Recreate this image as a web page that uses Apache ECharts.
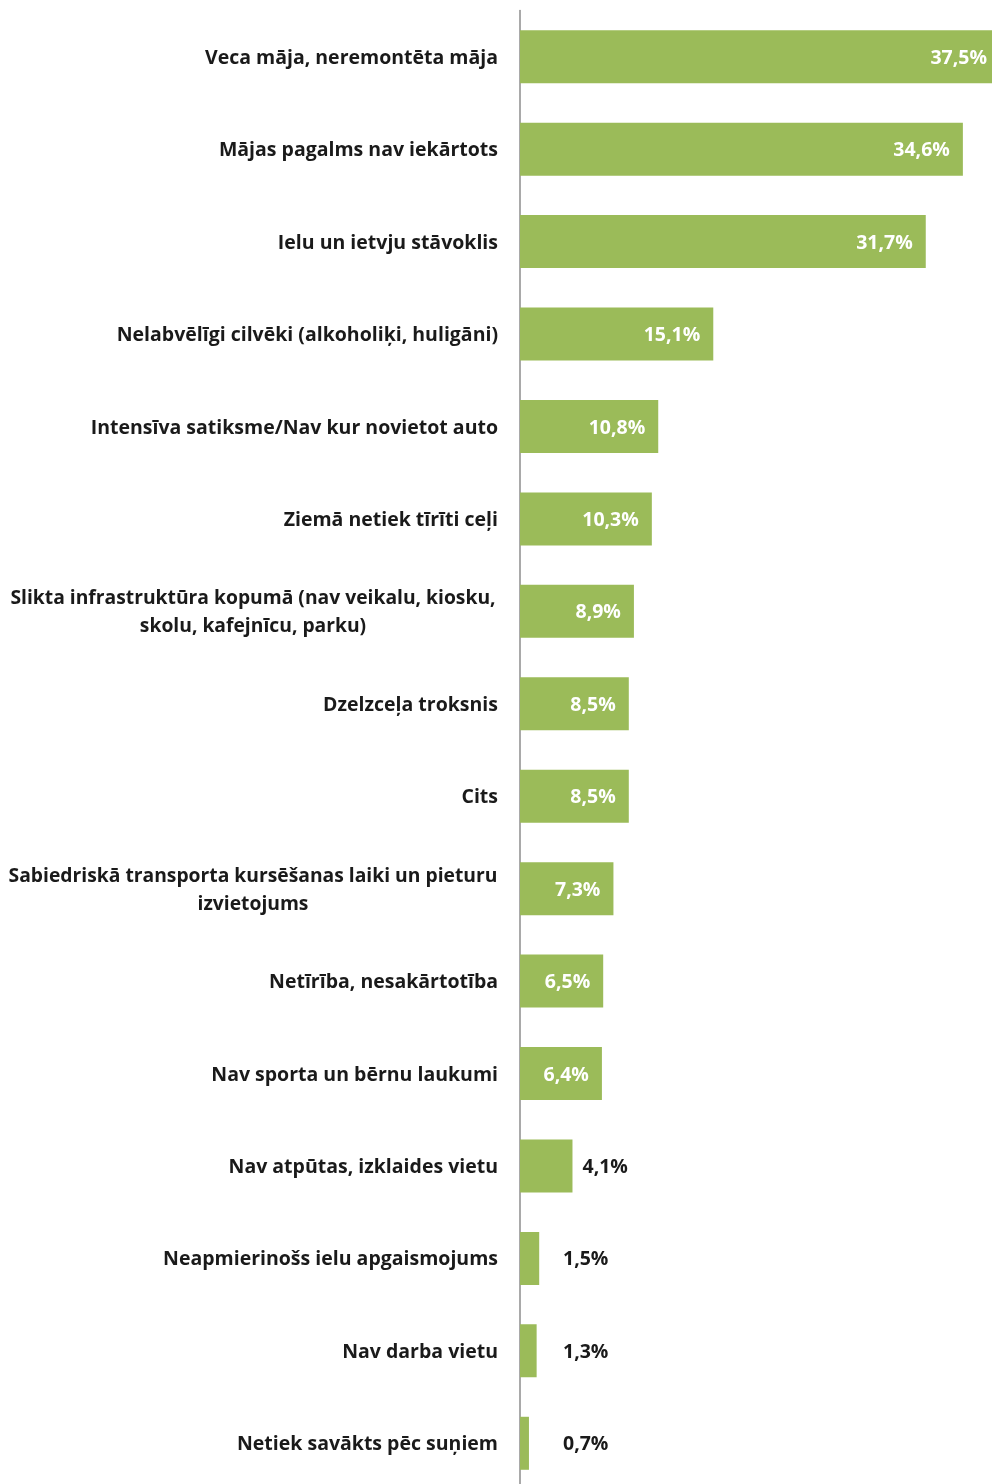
<!DOCTYPE html>
<html><head><meta charset="utf-8">
<script src="https://cdn.jsdelivr.net/npm/echarts@6/dist/echarts.min.js"></script>
<style>html,body{margin:0;padding:0;background:#fff}#c{width:992px;height:1484px}</style>
</head><body><div id="c"></div>
<script>
const categories = [
  "Veca māja, neremontēta māja",
  "Mājas pagalms nav iekārtots",
  "Ielu un ietvju stāvoklis",
  "Nelabvēlīgi cilvēki (alkoholiķi, huligāni)",
  "Intensīva satiksme/Nav kur novietot auto",
  "Ziemā netiek tīrīti ceļi",
  "Slikta infrastruktūra kopumā (nav veikalu, kiosku,\nskolu, kafejnīcu, parku)",
  "Dzelzceļa troksnis",
  "Cits",
  "Sabiedriskā transporta kursēšanas laiki un pieturu\nizvietojums",
  "Netīrība, nesakārtotība",
  "Nav sporta un bērnu laukumi",
  "Nav atpūtas, izklaides vietu",
  "Neapmierinošs ielu apgaismojums",
  "Nav darba vietu",
  "Netiek savākts pēc suņiem"
];
const values = [37.5, 34.6, 31.7, 15.1, 10.8, 10.3, 8.9, 8.5, 8.5, 7.3, 6.5, 6.4, 4.1, 1.5, 1.3, 0.7];

const FONT = '"Open Sans"';
const FS = 19.5;
const chart = echarts.init(document.getElementById('c'), null, {renderer: 'canvas'});
const data = values.map(function (v) {
  let label;
  if (v >= 5) {
    label = {position: 'insideRight', distance: 13, color: '#ffffff'};
  } else if (v >= 3) {
    label = {position: 'right', distance: 10, color: '#1a1a1a'};
  } else {
    label = {position: 'insideLeft', distance: 43, color: '#1a1a1a'};
  }
  return {value: v, label: label};
});
chart.setOption({
  animation: false,
  grid: {left: 520, top: 10.5, width: 480, height: 1479, containLabel: false, outerBoundsMode: 'none'},
  xAxis: {type: 'value', min: 0, max: 37.5, show: false},
  yAxis: {
    type: 'category', inverse: true, data: categories,
    axisLine: {lineStyle: {color: '#8c8c8c', width: 1.5}},
    axisTick: {show: false},
    axisLabel: {
      margin: 22, color: '#1a1a1a', fontFamily: FONT, fontWeight: 'bold', fontSize: FS, lineHeight: 28,
      padding: [3, 0, 0, 0],
      formatter: function (s) {
        if (s.indexOf('\n') >= 0) {
          return s.split('\n').map(function (l) { return '{c|' + l + '}'; }).join('\n');
        }
        return s;
      },
      rich: {c: {width: 490, align: 'center', fontFamily: FONT, fontWeight: 'bold', fontSize: 19.3, lineHeight: 28, color: '#1a1a1a'}}
    }
  },
  series: [{
    type: 'bar', data: data, barWidth: 53,
    itemStyle: {color: '#9bbb59'},
    label: {show: true, fontFamily: FONT, fontWeight: 'bold', fontSize: FS, offset: [0, 1.5],
      formatter: function (p) { return p.value.toFixed(1).replace('.', ',') + '%'; }}
  }]
});
</script></body></html>
